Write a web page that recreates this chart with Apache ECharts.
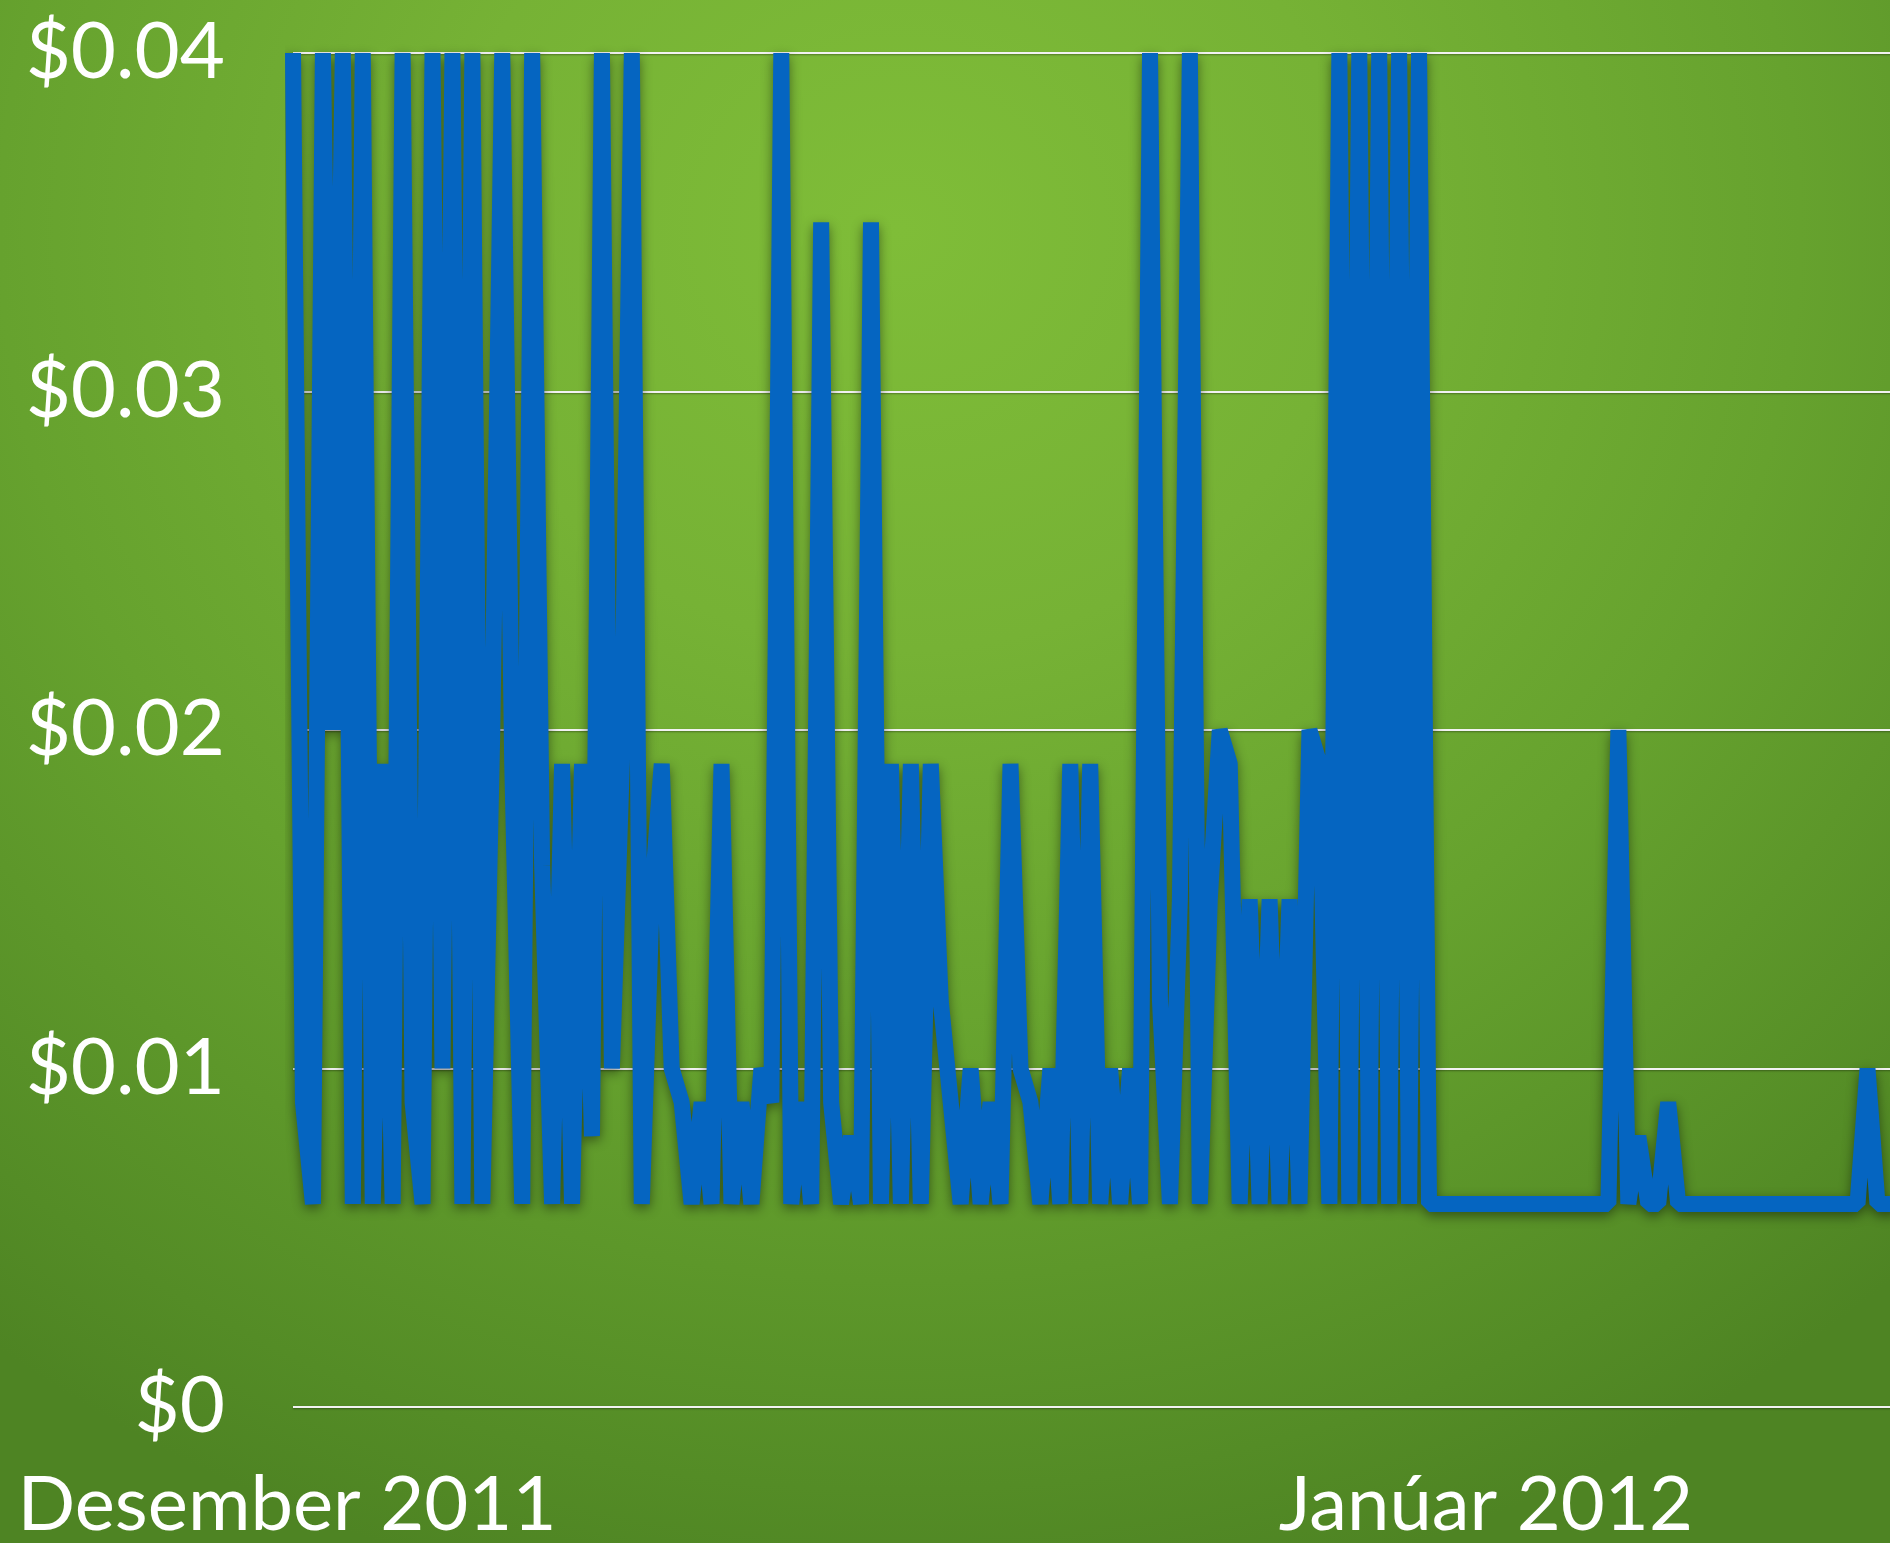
<!DOCTYPE html>
<html>
<head>
<meta charset="utf-8">
<script src="https://cdn.jsdelivr.net/npm/echarts@6/dist/echarts.min.js"></script>
<style>
  html, body { margin: 0; padding: 0; }
  body {
    width: 1890px; height: 1543px; overflow: hidden;
    background: radial-gradient(ellipse 1500px 1400px at 900px 230px, #7fbd38 0%, #76b235 30%, #66a22e 60%, #548c26 90%, #4e8423 100%);
  }
  #chart { width: 1940px; height: 1543px; }
</style>
</head>
<body>
<div id="chart"></div>
<script>
// Price per point (dollars)
const values = [
  0.04, 0.009, 0.006, 0.04, 0.02, 0.04, 0.006, 0.04, 0.006, 0.019,
  0.006, 0.04, 0.009, 0.006, 0.04, 0.01, 0.04, 0.006, 0.04, 0.006,
  0.02, 0.04, 0.019, 0.006, 0.04, 0.016, 0.006, 0.019, 0.006, 0.019,
  0.008, 0.04, 0.01, 0.019, 0.04, 0.006, 0.015, 0.019, 0.01, 0.009,
  0.006, 0.009, 0.006, 0.019, 0.006, 0.009, 0.006, 0.01, 0.009, 0.04,
  0.006, 0.009, 0.006, 0.035, 0.009, 0.006, 0.008, 0.006, 0.035, 0.006,
  0.019, 0.006, 0.019, 0.006, 0.019, 0.012, 0.009, 0.006, 0.01, 0.006,
  0.009, 0.006, 0.019, 0.01, 0.009, 0.006, 0.01, 0.006, 0.019, 0.006,
  0.019, 0.006, 0.01, 0.006, 0.01, 0.006, 0.04, 0.012, 0.006, 0.015,
  0.04, 0.006, 0.015, 0.02, 0.019, 0.006, 0.015, 0.006, 0.015, 0.006,
  0.015, 0.006, 0.02, 0.019, 0.006, 0.04, 0.006, 0.04, 0.006, 0.04,
  0.006, 0.04, 0.006, 0.04, 0.006, 0.006, 0.006, 0.006, 0.006, 0.006,
  0.006, 0.006, 0.006, 0.006, 0.006, 0.006, 0.006, 0.006, 0.006, 0.006,
  0.006, 0.006, 0.006, 0.02, 0.006, 0.008, 0.006, 0.006, 0.009, 0.006,
  0.006, 0.006, 0.006, 0.006, 0.006, 0.006, 0.006, 0.006, 0.006, 0.006,
  0.006, 0.006, 0.006, 0.006, 0.006, 0.006, 0.006, 0.006, 0.01, 0.006,
  0.006, 0.006
];

// X tick labels keyed by point index
const xTickIndex = [0, 120];
const xTickText = ['Desember 2011', 'Janúar 2012'];

// Y tick labels
const yTickValues = [0, 0.01, 0.02, 0.03, 0.04];
const yTickText = ['$0', '$0.01', '$0.02', '$0.03', '$0.04'];

const categories = values.map((_, i) => String(i));

const chart = echarts.init(document.getElementById('chart'), null, { renderer: 'canvas' });
const FONT = 'Lato, "Open Sans", sans-serif';

chart.setOption({
  animation: false,
  backgroundColor: 'transparent',
  grid: { left: 293, top: 53, width: 1604.4, height: 1354, containLabel: false },
  xAxis: {
    type: 'category',
    data: categories,
    boundaryGap: false,
    axisLine: { show: false },
    axisTick: { show: false },
    splitLine: { show: false },
    axisLabel: {
      interval: 0,
      color: '#ffffff',
      fontSize: 76,
      fontFamily: FONT,
      margin: 60,
      formatter: function (v, i) {
        const k = xTickIndex.indexOf(i);
        if (k < 0) return '';
        return k === 0 ? '{a|' + xTickText[k] + '}' : '{b|' + xTickText[k] + '}';
      },
      rich: {
        a: { color: '#ffffff', fontSize: 76, fontFamily: FONT, padding: [0, 12, 0, 0] },
        b: { color: '#ffffff', fontSize: 76, fontFamily: FONT, padding: [0, 6, 0, 0] }
      }
    }
  },
  yAxis: {
    type: 'value',
    min: 0,
    max: 0.04,
    interval: 0.01,
    axisLine: { show: false },
    axisTick: { show: false },
    axisLabel: {
      color: '#ffffff',
      fontSize: 78,
      fontFamily: FONT,
      margin: 68,
      formatter: function (v) {
        let best = 0;
        for (let k = 0; k < yTickValues.length; k++) {
          if (Math.abs(yTickValues[k] - v) < Math.abs(yTickValues[best] - v)) best = k;
        }
        return yTickText[best];
      }
    },
    splitLine: {
      lineStyle: { color: '#f2f2f2', width: 2, shadowColor: 'rgba(0,0,0,0.35)', shadowBlur: 2, shadowOffsetY: 1 }
    }
  },
  series: [{
    type: 'line',
    data: values,
    showSymbol: false,
    clip: false,
    lineStyle: {
      color: '#0565c1',
      width: 16,
      join: 'bevel',
      cap: 'butt',
      shadowColor: 'rgba(0,0,0,0.45)',
      shadowBlur: 12,
      shadowOffsetY: 4
    }
  }]
});
</script>
</body>
</html>
